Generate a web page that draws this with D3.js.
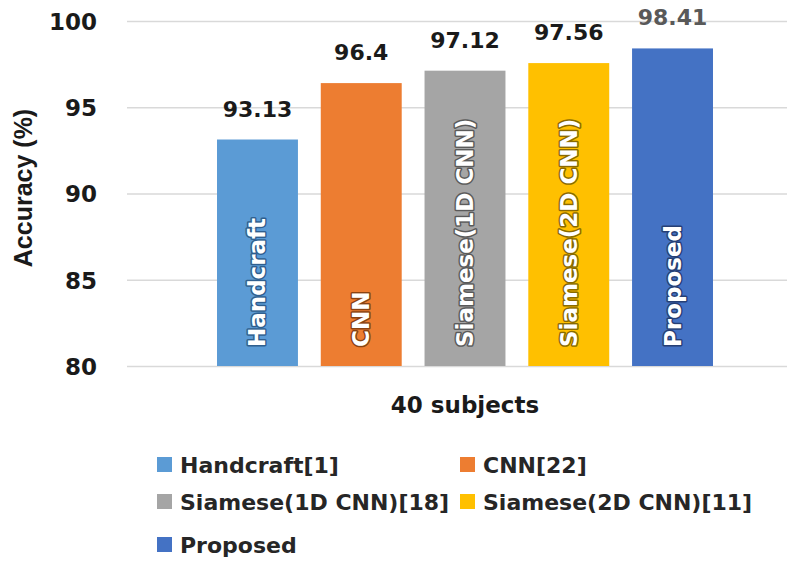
<!DOCTYPE html>
<html>
<head>
<meta charset="utf-8">
<script src="https://cdn.jsdelivr.net/npm/d3@7"></script>
<style>
  html, body { margin: 0; padding: 0; background: #ffffff; }
  svg { display: block; }
  text { font-family: "DejaVu Sans", sans-serif; font-weight: bold; }
</style>
</head>
<body>
<svg id="chart" width="787" height="562"></svg>
<script>
// Accuracy comparison on 40 subjects
const methods = ["Handcraft", "CNN", "Siamese(1D CNN)", "Siamese(2D CNN)", "Proposed"];
const legendLabels = ["Handcraft[1]", "CNN[22]", "Siamese(1D CNN)[18]", "Siamese(2D CNN)[11]", "Proposed"];
const accuracy = [93.13, 96.4, 97.12, 97.56, 98.41];
const colors = ["#5B9BD5", "#ED7D31", "#A5A5A5", "#FFC000", "#4472C4"];
const outlineColors = ["#2f5f8f", "#8a4312", "#5a5a5a", "#8a6a00", "#263f75"];
const yTicks = [80, 85, 90, 95, 100];
const groupLabel = "40 subjects";
const yTitle = "Accuracy (%)";

const svg = d3.select("#chart");

const y = d3.scaleLinear().domain([80, 100]).range([366, 21]);
const x = d3.scaleBand().domain(methods).range([205.6, 724.4])
  .paddingInner(0.22).paddingOuter(0.11);

// horizontal gridlines
const yAxis = d3.axisLeft(y).tickValues(yTicks).tickSize(-660).tickPadding(30).tickFormat(d3.format("d"));
const gy = svg.append("g").attr("transform", "translate(127,0)").call(yAxis);
gy.select(".domain").remove();
gy.selectAll(".tick line").attr("stroke", "#d9d9d9").attr("stroke-width", 1.5);
gy.selectAll(".tick text")
  .attr("fill", "#1a1a1a")
  .style("font-size", "23px")
  .attr("dy", "0.36em");

// bars
svg.append("g").selectAll("rect")
  .data(methods)
  .join("rect")
  .attr("x", d => x(d))
  .attr("width", x.bandwidth())
  .attr("y", (d, i) => y(accuracy[i]))
  .attr("height", (d, i) => y(80) - y(accuracy[i]))
  .attr("fill", (d, i) => colors[i]);

// value labels above bars
svg.append("g").selectAll("text")
  .data(methods)
  .join("text")
  .attr("x", d => x(d) + x.bandwidth() / 2)
  .attr("y", (d, i) => y(accuracy[i]) - 23)
  .attr("text-anchor", "middle")
  .attr("fill", (d, i) => i === methods.length - 1 ? "#595959" : "#1a1a1a")
  .style("font-size", "22px")
  .text((d, i) => String(accuracy[i]));

// method names written vertically inside the bars
svg.append("g").selectAll("text")
  .data(methods)
  .join("text")
  .attr("transform", d => `translate(${x(d) + x.bandwidth() / 2 + 8},347) rotate(-90)`)
  .attr("text-anchor", "start")
  .attr("fill", "#ffffff")
  .attr("stroke", (d, i) => outlineColors[i])
  .attr("stroke-width", 3)
  .attr("stroke-linejoin", "round")
  .attr("paint-order", "stroke")
  .style("font-size", "23px")
  .text(d => d);

// category label
svg.append("text")
  .attr("x", 465)
  .attr("y", 413)
  .attr("text-anchor", "middle")
  .attr("fill", "#1a1a1a")
  .style("font-size", "23px")
  .text(groupLabel);

// y-axis title
svg.append("text")
  .attr("transform", "translate(32,188) rotate(-90)")
  .attr("text-anchor", "middle")
  .attr("fill", "#1a1a1a")
  .style("font-family", "'Liberation Sans', Arial, sans-serif")
  .style("font-size", "25px")
  .text(yTitle);

// legend in two columns
const legendCols = [157, 460];
const legendRows = [465, 502, 545];
const legend = svg.append("g").selectAll("g")
  .data(legendLabels)
  .join("g")
  .attr("transform", (d, i) => `translate(${legendCols[i % 2]},${legendRows[Math.floor(i / 2)]})`);
legend.append("rect")
  .attr("x", 0).attr("y", -8)
  .attr("width", 15).attr("height", 15)
  .attr("fill", (d, i) => colors[i]);
legend.append("text")
  .attr("x", 23)
  .attr("y", 0)
  .attr("dy", "0.36em")
  .attr("fill", "#262626")
  .style("font-size", "22px")
  .text(d => d);
</script>
</body>
</html>
